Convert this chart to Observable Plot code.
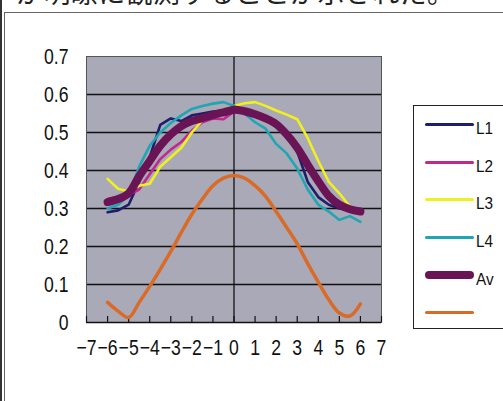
<!DOCTYPE html>
<html>
<head>
<meta charset="utf-8">
<script src="https://cdn.jsdelivr.net/npm/d3@7"></script>
<script src="https://cdn.jsdelivr.net/npm/@observablehq/plot@0.6"></script>
<style>
  html, body { margin: 0; padding: 0; background: #fff; }
  #page { position: relative; width: 503px; height: 401px; overflow: hidden; background: #fff; }
  #lead { position: absolute; left: 16px; top: -23px; font: 27px/30px "Noto Sans CJK JP", sans-serif; color: #222; white-space: nowrap; letter-spacing: 0.4px; }
  #rule { position: absolute; left: 0; top: 0; width: 2px; height: 401px; background: #333; }
  #box { position: absolute; left: 4px; top: 12px; width: 600px; height: 600px; border: 1px solid #666; }
  #chart { position: absolute; left: 0; top: 0; }
  #legend { position: absolute; left: 413px; top: 105px; width: 120px; height: 224px; border: 1.5px solid #222; box-sizing: border-box; }
  .item { position: absolute; left: 0; height: 20px; width: 100px; }
  .sw { position: absolute; left: 11px; width: 49px; border-radius: 4px; }
  .lab { position: absolute; left: 62px; font: 17px "Liberation Sans", sans-serif; color: #111; transform: scaleX(0.9); transform-origin: left center; }
</style>
</head>
<body>
<div id="page">
  <div id="rule"></div>
  <div id="box"></div>
  <div id="lead">が明瞭に観測することが示された。</div>
  <div id="chart"></div>
  <div id="legend"></div>
</div>
<script>
// Position along the horizontal axis (half-step samples)
const xs = [-6, -5.5, -5, -4.5, -4, -3.5, -3, -2.5, -2, -1.5, -1, -0.5, 0,
            0.5, 1, 1.5, 2, 2.5, 3, 3.5, 4, 4.5, 5, 5.5, 6];

const l1 = [0.29, 0.295, 0.31, 0.37, 0.435, 0.52, 0.537, 0.53, 0.545, 0.55, 0.555, 0.558, 0.56,
            0.555, 0.545, 0.535, 0.52, 0.5, 0.45, 0.37, 0.33, 0.31, 0.3, 0.295, 0.29];
const l2 = [0.325, 0.33, 0.335, 0.35, 0.39, 0.43, 0.455, 0.475, 0.505, 0.527, 0.537, 0.535, 0.555,
            0.56, 0.55, 0.54, 0.525, 0.5, 0.465, 0.42, 0.375, 0.34, 0.315, 0.3, 0.295];
const l3 = [0.378, 0.352, 0.345, 0.36, 0.365, 0.41, 0.435, 0.46, 0.5, 0.532, 0.548, 0.56, 0.57,
            0.577, 0.58, 0.57, 0.558, 0.547, 0.535, 0.485, 0.425, 0.37, 0.34, 0.305, 0.29];
const l4 = [0.3, 0.31, 0.335, 0.41, 0.465, 0.5, 0.525, 0.545, 0.562, 0.57, 0.576, 0.58, 0.57,
            0.55, 0.527, 0.51, 0.47, 0.445, 0.405, 0.35, 0.31, 0.292, 0.27, 0.28, 0.265];
const av = [0.317, 0.325, 0.34, 0.385, 0.425, 0.465, 0.495, 0.517, 0.53, 0.538, 0.546, 0.553, 0.56,
            0.556, 0.548, 0.537, 0.522, 0.495, 0.46, 0.415, 0.372, 0.333, 0.31, 0.298, 0.292];
const s6 = [0.053, 0.03, 0.013, 0.053, 0.095, 0.14, 0.187, 0.237, 0.285, 0.325, 0.36, 0.38, 0.387,
            0.38, 0.36, 0.332, 0.292, 0.25, 0.207, 0.155, 0.106, 0.06, 0.025, 0.017, 0.049];

const seriesNames = ["L1", "L2", "L3", "L4", "Av", ""];
const seriesColors = ["#1c1f6b", "#c0288e", "#f0f020", "#1fa6b4", "#6a1456", "#d96b27"];
const seriesWidths = [2.6, 2.6, 2.6, 2.6, 8, 3.5];

const xTicks = [-7, -6, -5, -4, -3, -2, -1, 0, 1, 2, 3, 4, 5, 6, 7];
const yTicks = [0, 0.1, 0.2, 0.3, 0.4, 0.5, 0.6, 0.7];
const gridValues = [0.1, 0.2, 0.3, 0.4, 0.5, 0.6];

const allValues = [l1, l2, l3, l4, av, s6];
const lineMarks = allValues.map((vals, k) => {
  const rows = vals.map((v, i) => ({x: xs[i], y: v}));
  const smooth = k >= 4;
  return Plot.line(rows, {
    x: "x", y: "y",
    stroke: seriesColors[k],
    strokeWidth: seriesWidths[k],
    strokeLinejoin: "round",
    strokeLinecap: "round",
    curve: smooth ? "catmull-rom" : "linear"
  });
});

const chart = Plot.plot({
  width: 503,
  height: 401,
  marginLeft: 86,
  marginRight: 122,
  marginTop: 56,
  marginBottom: 79,
  style: {background: "transparent", fontFamily: "'Liberation Sans', sans-serif", fontSize: "22px", color: "#111"},
  x: {domain: [-7, 7], axis: null},
  y: {domain: [0, 0.7], axis: null},
  marks: [
    Plot.frame({fill: "#a9a9b7"}),
    Plot.gridY(gridValues, {stroke: "#111", strokeOpacity: 1, strokeWidth: 1.3}),
    Plot.ruleX([0], {stroke: "#111", strokeWidth: 1.3}),
    Plot.frame({stroke: "#555", strokeWidth: 1}),
    Plot.ruleY([0], {stroke: "#111", strokeWidth: 1.6}),
    Plot.axisX(xTicks, {tickSize: -6, tickFormat: () => "", label: null, stroke: "#111", strokeWidth: 1.2}),
    Plot.axisX(xTicks, {tickSize: 0, tickPadding: 17, label: null, fontSize: 22, fill: "#111"}),
    Plot.axisY(yTicks, {tickSize: 0, tickPadding: 18, label: null, fontSize: 22, fill: "#111", tickFormat: d => String(d)}),
    ...lineMarks
  ]
});
document.getElementById("chart").appendChild(chart);

// Condense the tick labels horizontally (narrow face look)
d3.select(chart).selectAll("g[aria-label$='tick label'] text").each(function () {
  const w = this.getComputedTextLength();
  if (w > 0) {
    this.setAttribute("textLength", (w * 0.8).toFixed(1));
    this.setAttribute("lengthAdjust", "spacingAndGlyphs");
  }
});

// Legend: one swatch per series, label beside it
const legend = document.getElementById("legend");
const itemTops = [16, 54, 91, 129, 167, 204];
seriesNames.forEach((name, k) => {
  const item = document.createElement("div");
  item.className = "item";
  item.style.top = itemTops[k] + "px";
  const sw = document.createElement("div");
  sw.className = "sw";
  const h = seriesWidths[k] === 8 ? 8 : 3;
  sw.style.height = h + "px";
  sw.style.top = (2 - h / 2) + "px";
  sw.style.background = seriesColors[k];
  const lab = document.createElement("div");
  lab.className = "lab";
  lab.style.top = "-3px";
  lab.textContent = name;
  item.appendChild(sw);
  item.appendChild(lab);
  legend.appendChild(item);
});
</script>
</body>
</html>
